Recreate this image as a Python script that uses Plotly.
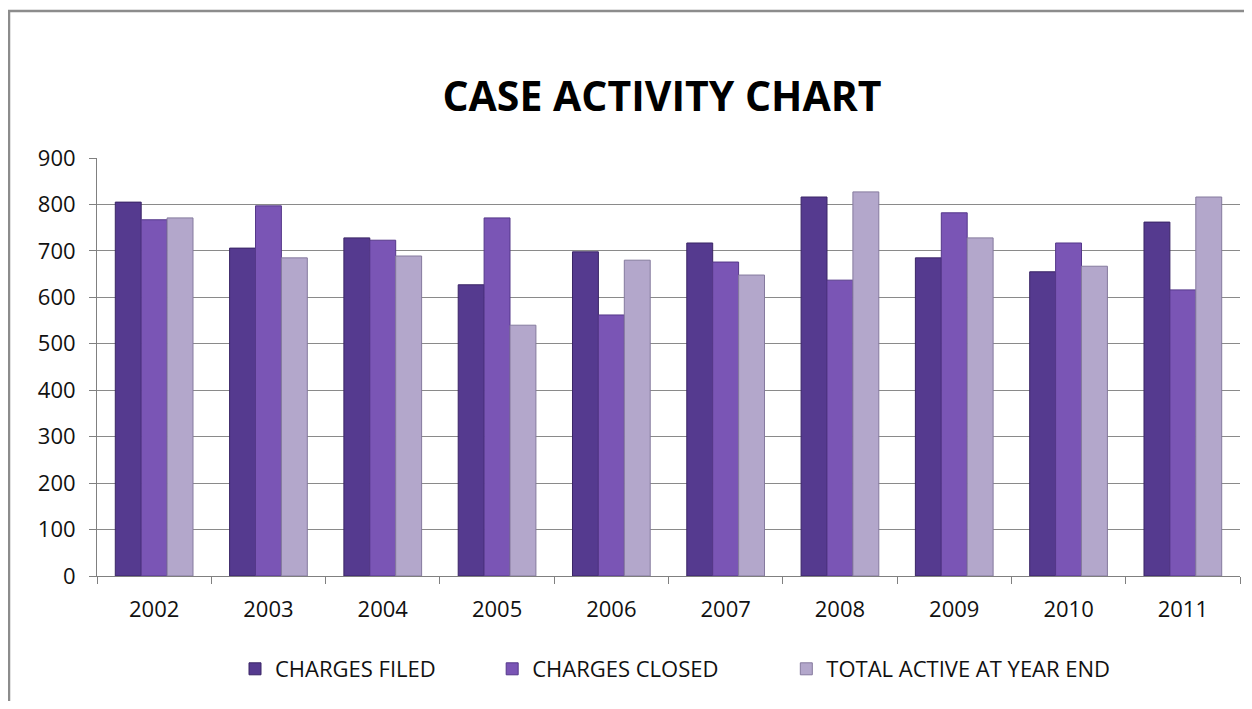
import plotly.graph_objects as go

years = ["2002", "2003", "2004", "2005", "2006", "2007", "2008", "2009", "2010", "2011"]
charges_filed = [805, 706, 728, 627, 698, 717, 816, 685, 655, 762]
charges_closed = [767, 797, 723, 771, 562, 676, 637, 782, 717, 616]
total_active = [771, 685, 689, 540, 680, 648, 827, 728, 667, 816]
y_ticks = [0, 100, 200, 300, 400, 500, 600, 700, 800, 900]

NB = "\u00a0"
series = [
    ("CHARGES FILED", charges_filed, "#553A8F", "#3A2566", 9),
    ("CHARGES CLOSED", charges_closed, "#7A55B5", "#55388A", 11),
    ("TOTAL ACTIVE AT YEAR END", total_active, "#B3A7CB", "#857A9E", 0),
]

fig = go.Figure()
for name, vals, col, edge, pad in series:
    fig.add_trace(go.Bar(
        x=years, y=vals, name=name + NB * pad,
        marker=dict(color=col, line=dict(color=edge, width=1)),
    ))

OFF = 8  # page body margin
W, H = 1236, 693
ml, mt = 97 - OFF, 158 - OFF
mr = W - (1240 - OFF)
mb = H - (576 - OFF)
pw, ph = W - ml - mr, H - mt - mb

def px_x(x):
    return (x - OFF - ml) / pw

def px_y(y):
    return (H - mb - (y - OFF)) / ph

fig.update_layout(
    width=W, height=H,
    margin=dict(l=ml, r=mr, t=mt, b=mb),
    paper_bgcolor="white", plot_bgcolor="white",
    barmode="group", bargap=0.32, bargroupgap=0,
    font=dict(family="Open Sans", color="#111111"),
    title=dict(text="<b>CASE ACTIVITY CHART</b>", x=(662 - OFF) / W, xref="container", xanchor="center",
               y=1 - (97 - OFF) / H, yref="container", yanchor="middle",
               font=dict(family="Open Sans", size=41, color="#000000")),
    showlegend=True,
    legend=dict(orientation="h", x=px_x(235), xanchor="left", y=px_y(669), yanchor="middle",
                font=dict(family="Open Sans", size=22, color="#111111"),
                itemwidth=30, bgcolor="rgba(0,0,0,0)"),
    xaxis=dict(type="category", tickson="boundaries", ticks="outside", ticklen=7,
               tickcolor="#808080", showline=True, linecolor="#808080", linewidth=1,
               showgrid=False, tickfont=dict(size=22, color="#111111"),
               ticklabelstandoff=14),
    yaxis=dict(range=[0, 900], tickvals=y_ticks, ticks="outside", ticklen=7,
               tickcolor="#808080", showline=True, linecolor="#808080", linewidth=1,
               showgrid=True, gridcolor="#8a8a8a", gridwidth=1, zeroline=False,
               tickfont=dict(size=22, color="#111111"), ticklabelstandoff=9),
    shapes=[dict(type="path", xref="paper", yref="paper",
                 path=f"M {px_x(9)} {px_y(720)} L {px_x(9)} {px_y(11)} L {px_x(1250)} {px_y(11)}",
                 line=dict(color="#8c8c8c", width=2.5))],
)

fig.write_html("out.html")
